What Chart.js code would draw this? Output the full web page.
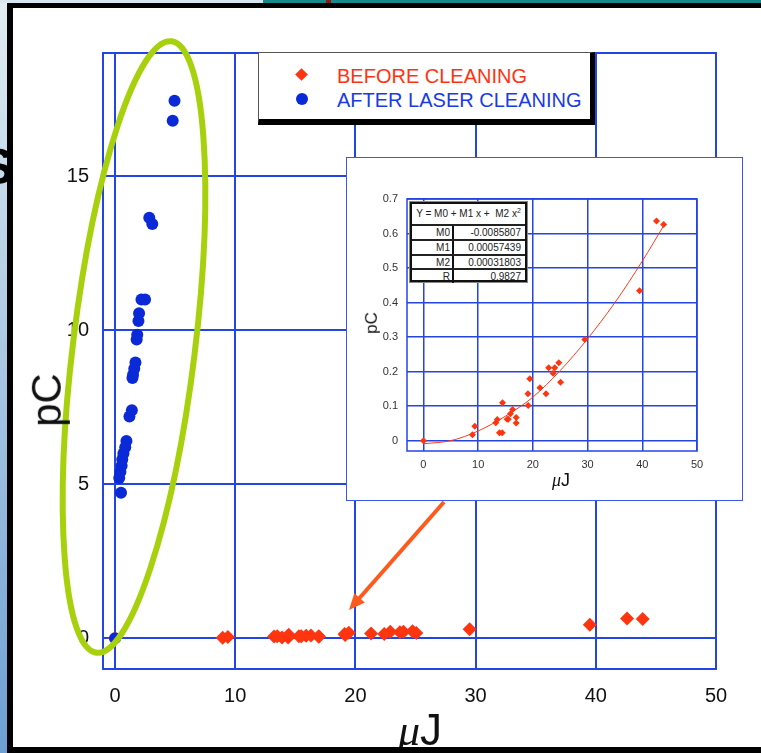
<!DOCTYPE html>
<html>
<head>
<meta charset="utf-8">
<script src="https://cdn.jsdelivr.net/npm/chart.js@4.4.1/dist/chart.umd.min.js"></script>
<style>
html, body { margin: 0; padding: 0; background: #fff; }
#page { position: relative; width: 761px; height: 753px; overflow: hidden; background: #fff;
        font-family: "Liberation Sans", Arial, sans-serif; }
#mainCanvas { position: absolute; left: 0; top: 0; z-index: 1; }
.abs { position: absolute; }
/* slide frame around the picture */
#stripLeft { left: 0; top: 0; width: 7px; height: 753px; background: linear-gradient(#e2ecf2, #6c9fd3); z-index: 0; }
#stripTopL { left: 0; top: 0; width: 263px; height: 3px; background: #d9e5ee; z-index: 5; }
#stripTopR { left: 263px; top: 0; width: 498px; height: 3px; background: #15898b; z-index: 5; }
#stripMark { left: 326px; top: 0; width: 5px; height: 3px; background: #8b1a10; z-index: 6; }
#frameTop { left: 7px; top: 3px; width: 754px; height: 5px; background: #000; z-index: 5; }
#frameLeft { left: 7px; top: 3px; width: 6px; height: 750px; background: #000; z-index: 5; }
#frameBottom { left: 7px; top: 747px; width: 754px; height: 6px; background: #000; z-index: 5; }
#bigS { left: -20px; top: 138px; font: bold 50px "Liberation Sans", Arial, sans-serif; color: #000; z-index: 1; }
/* legend */
#legend { left: 258px; top: 52px; width: 337px; height: 73px; box-sizing: border-box; background: #fff;
          border-top: 1px solid #555; border-left: 1px solid #555; border-right: 5px solid #000; border-bottom: 6px solid #000; z-index: 3; }
.legText { position: absolute; left: 78px; font-size: 20px; line-height: 20px; white-space: nowrap; }
.diamond { position: absolute; width: 9px; height: 9px; background: #ff3510; transform: rotate(45deg); }
.dot { position: absolute; width: 12px; height: 12px; border-radius: 50%; background: #0a2ad8; }
/* inset */
#inset { left: 346px; top: 157px; width: 397px; height: 344px; box-sizing: border-box; border: 1px solid #3a58f0; background: #fff; z-index: 3; }
#insetCanvas { position: absolute; left: 0; top: 0; }
#fitTable { left: 62px; top: 43px; width: 119px; height: 82px; box-sizing: border-box; border: 1px solid #888; background: #fff;
            font-size: 10px; line-height: 12px; color: #222; }
#fitInner { position: absolute; left: 0; top: 0; right: 0; bottom: 0; border: 2px solid #111; }
.frow { position: absolute; left: 0; right: 0; border-top: 2px solid #222; height: 13px; }
.fkey { position: absolute; left: 0; width: 38px; text-align: right; top: 1px; }
.fval { position: absolute; left: 40px; right: 4px; text-align: right; top: 1px; border-left: 2px solid #111; height: 13px; top: 0; line-height: 14px; }
.title { position: absolute; color: #111; white-space: nowrap; z-index: 4; }
</style>
</head>
<body>
<div id="page">
  <div id="stripLeft" class="abs"></div>
  <div id="bigS" class="abs">S</div>
  <canvas id="mainCanvas" width="761" height="753"></canvas>

  <div id="legend" class="abs">
    <div class="diamond" style="left:38px; top:17px;"></div>
    <div class="legText" style="top:13px; color:#ff3311;">BEFORE CLEANING</div>
    <div class="dot" style="left:37px; top:40px;"></div>
    <div class="legText" style="top:37px; color:#1a3ae6;">AFTER LASER CLEANING</div>
  </div>

  <div id="inset" class="abs">
    <canvas id="insetCanvas" width="395" height="342"></canvas>
    <div id="fitTable" class="abs">
      <div id="fitInner">
        <div style="position:absolute; left:0; right:0; top:4px; text-align:center; font-size:10px;">Y = M0 + M1 x +&nbsp; M2 x<sup style="font-size:7px; line-height:0;">2</sup></div>
        <div class="frow" style="top:20px;"><span class="fkey">M0</span><span class="fval">-0.0085807</span></div>
        <div class="frow" style="top:35px;"><span class="fkey">M1</span><span class="fval">0.00057439</span></div>
        <div class="frow" style="top:50px;"><span class="fkey">M2</span><span class="fval">0.00031803</span></div>
        <div class="frow" style="top:64px;"><span class="fkey">R</span><span class="fval">0.9827</span></div>
      </div>
    </div>
    <div class="title" style="left:14px; top:155px; font-size:17px; transform:rotate(-90deg);">pC</div>
    <div class="title" style="left:205px; top:312px; font-size:18px;"><i style="font-family:'Liberation Serif',serif;">&mu;</i>J</div>
  </div>

  <div class="title" style="left:20px; top:376px; font-size:42px; transform:rotate(-90deg);">pC</div>
  <div class="title" style="left:398px; top:708px; font-size:44px; line-height:44px;"><i style="font-family:'Liberation Serif',serif;">&mu;</i>J</div>

  <div id="stripTopL" class="abs"></div>
  <div id="stripTopR" class="abs"></div>
  <div id="stripMark" class="abs"></div>
  <div id="frameTop" class="abs"></div>
  <div id="frameLeft" class="abs"></div>
  <div id="frameBottom" class="abs"></div>
</div>

<script>
// after laser cleaning (blue dots), energy in uJ vs charge in pC
const afterX = [0, 0.5, 0.35, 0.45, 0.55, 0.6, 0.7, 0.85, 0.95, 1.2, 1.4, 1.45, 1.5, 1.6, 1.7,
                1.8, 1.85, 1.95, 2.0, 2.2, 2.5, 2.85, 3.1, 4.8, 4.95];
const afterY = [0, 4.72, 5.2, 5.4, 5.6, 5.8, 6.0, 6.2, 6.4, 7.2, 7.4, 8.45, 8.55, 8.75, 8.95,
                9.7, 9.85, 10.3, 10.55, 11.0, 11.0, 13.65, 13.45, 16.8, 17.45];

// before cleaning (red diamonds)
const beforeX = [0, 8.96, 9.39, 13.23, 13.5, 13.9, 14.4, 14.45, 15.3, 15.5, 15.9, 16.3, 16.95, 16.95,
                 19.1, 19.15, 19.45, 21.3, 22.4, 22.9, 23.7, 24.0, 24.75, 25.06, 29.5, 39.5, 42.6, 43.9];
const beforeY = [0, 0.017, 0.042, 0.052, 0.061, 0.023, 0.023, 0.11, 0.062, 0.062, 0.078, 0.09, 0.067, 0.051,
                 0.136, 0.102, 0.179, 0.153, 0.136, 0.211, 0.195, 0.211, 0.226, 0.169, 0.293, 0.434, 0.636, 0.626];

// fitted curve
const fitX = [0, 5, 10, 15, 20, 25, 30, 35, 40, 44];
const fitY = [-0.009, 0.0, 0.028, 0.071, 0.126, 0.203, 0.295, 0.40, 0.52, 0.625];

// axis ticks
const mainXTicks = [0, 10, 20, 30, 40, 50];
const mainYTicks = [0, 5, 10, 15];
const insetXTicks = [0, 10, 20, 30, 40, 50];
const insetYTicks = [0, 0.1, 0.2, 0.3, 0.4, 0.5, 0.6, 0.7];

const BLUE = '#2444e4';
const FONT = '"Liberation Sans", Arial, sans-serif';

function pts(xs, ys) {
    return xs.map((x, i) => ({ x: x, y: ys[i] }));
}

// blue frame around the plot area
const plotFrame = {
    id: 'plotFrame',
    afterDatasetsDraw(chart, args, opts) {
        const a = chart.chartArea, c = chart.ctx;
        c.save();
        c.strokeStyle = BLUE;
        c.lineWidth = opts.width || 2;
        c.strokeRect(a.left, a.top, a.right - a.left, a.bottom - a.top);
        c.restore();
    }
};

// green ellipse + orange arrow drawn over the main plot
const markup = {
    id: 'markup',
    afterDraw(chart) {
        const c = chart.ctx;
        c.save();
        c.strokeStyle = '#a6d10c';
        c.lineWidth = 6;
        c.beginPath();
        c.ellipse(134, 347, 61, 308, 0.122, 0, Math.PI * 2);
        c.stroke();

        // arrow
        const x0 = 444, y0 = 502, x1 = 349, y1 = 610;
        const ang = Math.atan2(y1 - y0, x1 - x0);
        c.strokeStyle = '#ff5a1e';
        c.fillStyle = '#ff5a1e';
        c.lineWidth = 4;
        c.beginPath();
        c.moveTo(x0, y0);
        c.lineTo(x1 - 10 * Math.cos(ang), y1 - 10 * Math.sin(ang));
        c.stroke();
        c.beginPath();
        c.moveTo(x1, y1);
        c.lineTo(x1 - 16 * Math.cos(ang) + 7 * Math.sin(ang), y1 - 16 * Math.sin(ang) - 7 * Math.cos(ang));
        c.lineTo(x1 - 16 * Math.cos(ang) - 7 * Math.sin(ang), y1 - 16 * Math.sin(ang) + 7 * Math.cos(ang));
        c.closePath();
        c.fill();
        c.restore();
    }
};

function axis(min, max, ticks, fontSize, color, pad, size, horiz, gridW) {
    return {
        type: 'linear',
        min: min,
        max: max,
        afterBuildTicks: (s) => { s.ticks = ticks.map(v => ({ value: v })); },
        ticks: {
            color: color,
            font: { family: FONT, size: fontSize },
            padding: pad,
            maxRotation: 0,
            autoSkip: false
        },
        grid: { color: BLUE, lineWidth: gridW, drawTicks: false },
        border: { display: false },
        afterFit: (s) => { if (horiz) s.height = size; else s.width = size; }
    };
}

new Chart(document.getElementById('mainCanvas'), {
    type: 'scatter',
    data: {
        datasets: [
            {
                label: 'AFTER LASER CLEANING',
                data: pts(afterX, afterY),
                pointStyle: 'circle',
                pointRadius: 6,
                backgroundColor: '#0a2ad8',
                borderColor: '#0a2ad8',
                borderWidth: 0
            },
            {
                label: 'BEFORE CLEANING',
                data: pts(beforeX, beforeY),
                pointStyle: 'rectRot',
                pointRadius: 7,
                backgroundColor: '#ff3510',
                borderColor: '#ff3510',
                borderWidth: 0
            }
        ]
    },
    options: {
        responsive: false,
        animation: false,
        events: [],
        layout: { padding: { left: 12, top: 53, right: 45, bottom: 0 } },
        plugins: { legend: { display: false }, tooltip: { enabled: false }, plotFrame: { width: 2 } },
        scales: {
            x: axis(-1, 50, mainXTicks, 20, '#111', 15, 84, true, 2),
            y: axis(-1, 19, mainYTicks, 20, '#111', 14, 91, false, 2)
        }
    },
    plugins: [plotFrame, markup]
});

new Chart(document.getElementById('insetCanvas'), {
    type: 'scatter',
    data: {
        datasets: [
            {
                label: 'BEFORE CLEANING',
                data: pts(beforeX, beforeY),
                pointStyle: 'rectRot',
                pointRadius: 3.5,
                backgroundColor: '#ff3510',
                borderWidth: 0
            },
            {
                type: 'line',
                label: 'fit',
                data: pts(fitX, fitY),
                showLine: true,
                pointRadius: 0,
                borderColor: '#ff3a1a',
                borderWidth: 1,
                cubicInterpolationMode: 'monotone',
                fill: false
            }
        ]
    },
    options: {
        responsive: false,
        animation: false,
        events: [],
        layout: { padding: { left: 0, top: 41, right: 45, bottom: 0 } },
        plugins: { legend: { display: false }, tooltip: { enabled: false }, plotFrame: { width: 1.5 } },
        scales: {
            x: axis(-3, 50, insetXTicks, 11, '#333', 7, 49, true, 1.5),
            y: axis(-0.03, 0.7, insetYTicks, 11, '#333', 9, 60, false, 1.5)
        }
    },
    plugins: [plotFrame]
});
</script>
</body>
</html>
